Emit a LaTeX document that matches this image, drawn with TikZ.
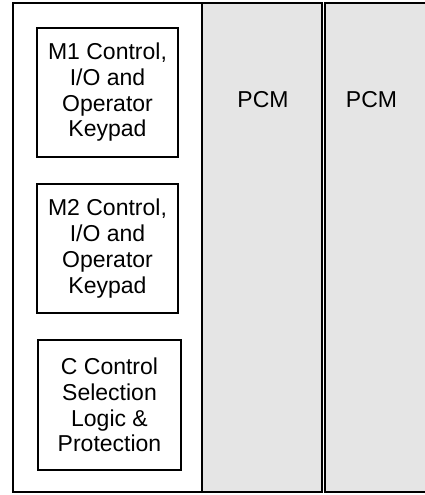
\documentclass[tikz,border=0pt]{standalone}
\usepackage{fontspec}
\setmainfont{Liberation Sans}
\begin{document}
\begin{tikzpicture}[x=1pt,y=-1pt,
  panel/.style={draw=black, line width=2pt, inner sep=0pt, outer sep=0pt},
  pcmpanel/.style={panel, fill=black!10},
  module/.style={draw=black, line width=1.6pt, fill=white, align=center, inner sep=0pt, outer sep=0pt,
    font=\fontsize{23}{25.7}\selectfont},
  lbl/.style={font=\fontsize{23}{25.7}\selectfont, inner sep=0pt}]
\useasboundingbox (0,0) rectangle (425,495);
\clip (0,0) rectangle (425,495);
\node[panel, fill=white, minimum width=189pt, minimum height=488pt] (left) at (107,247.5) {};
\node[pcmpanel, minimum width=120pt, minimum height=488pt] (pcma) at (261.5,247.5) {};
\node[pcmpanel, minimum width=120pt, minimum height=488pt, anchor=west] (pcmb) at (324.8,247.5) {};
\node[lbl] (pcmalbl) at (263,100) {PCM};
\node[lbl] (pcmblbl) at (371.5,100) {PCM};
\node[module, minimum width=141pt, minimum height=129pt] (m1) at (107.5,92.5) {M1 Control,\\I/O and\\Operator\\Keypad};
\node[module, minimum width=141pt, minimum height=129pt] (m2) at (107.5,248.5) {M2 Control,\\I/O and\\Operator\\Keypad};
\node[module, minimum width=143pt, minimum height=130pt] (cc) at (109.5,405) {C Control\\Selection\\Logic \&\\Protection};
\end{tikzpicture}
\end{document}
